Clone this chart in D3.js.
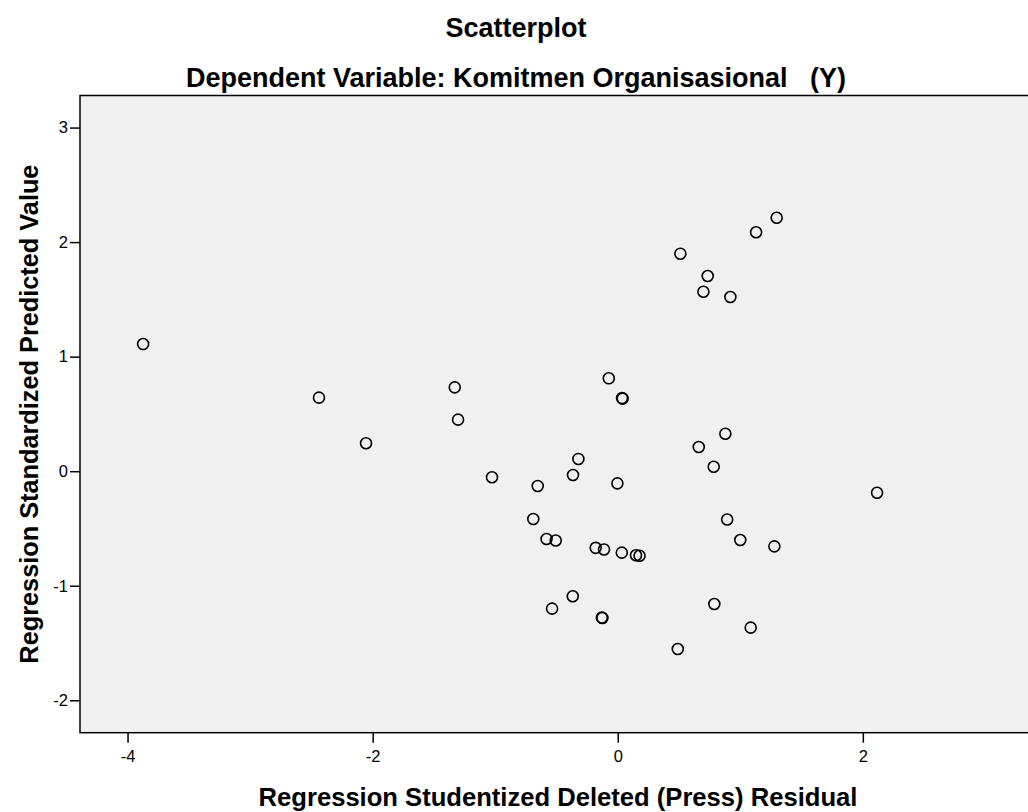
<!DOCTYPE html>
<html>
<head>
<meta charset="utf-8">
<script src="https://cdn.jsdelivr.net/npm/d3@7"></script>
<style>
  html, body { margin: 0; padding: 0; background: #fff; overflow: hidden; }
  svg { display: block; }
</style>
</head>
<body>
<svg id="chart"></svg>
<script>
// residuals (x) and standardized predicted values (y)
const residuals = [
  -3.873, -2.438, -2.054, -1.330, -1.303, -1.026, -0.653, -0.321, -0.365, -0.003,
  -0.689, -0.581, -0.506, -0.180, -0.112, 0.033, 0.149, 0.178, -0.073, 0.035,
  0.040, 0.661, 0.878, 0.783, 0.893, 1.000, 1.278, 2.116, -0.367, -0.536,
  -0.130, -0.125, 0.788, 1.085, 0.490, 1.297, 1.129, 0.511, 0.734, 0.699,
  0.919
];
const predicted = [
  1.110, 0.642, 0.244, 0.732, 0.450, -0.053, -0.129, 0.107, -0.033, -0.106,
  -0.417, -0.592, -0.605, -0.669, -0.684, -0.711, -0.734, -0.738, 0.811, 0.638,
  0.634, 0.211, 0.327, 0.039, -0.422, -0.601, -0.656, -0.188, -1.092, -1.200,
  -1.278, -1.281, -1.159, -1.366, -1.552, 2.213, 2.086, 1.899, 1.704, 1.567,
  1.521
];
const xTicks = [-4, -2, 0, 2];
const yTicks = [-2, -1, 0, 1, 2, 3];
const xDomain = [-4.388, 3.413];
const yDomain = [-2.283, 3.280];

const title = "Scatterplot";
const subtitle = "Dependent Variable: Komitmen Organisasional   (Y)";
const xLabel = "Regression Studentized Deleted (Press) Residual";
const yLabel = "Regression Standardized Predicted Value";

const points = residuals.map((r, i) => ({ x: r, y: predicted[i] }));

const width = 1028;
const height = 812;
const margin = { top: 95.5, left: 80 };
const plotW = 956;
const plotH = 637.2;
const font = "'Liberation Sans', Arial, sans-serif";

const svg = d3.select("#chart")
  .attr("width", width)
  .attr("height", height)
  .style("font-family", font);

const xScale = d3.scaleLinear().domain(xDomain).range([margin.left, margin.left + plotW]);
const yScale = d3.scaleLinear().domain(yDomain).range([margin.top + plotH, margin.top]);

// plot background + frame
svg.append("rect")
  .attr("x", margin.left)
  .attr("y", margin.top)
  .attr("width", plotW)
  .attr("height", plotH)
  .attr("fill", "#f0f0f0")
  .attr("stroke", "#000")
  .attr("stroke-width", 1.5);

// axes
const xAxis = d3.axisBottom(xScale)
  .tickValues(xTicks)
  .tickSize(10)
  .tickPadding(8)
  .tickFormat(d => String(d));

const yAxis = d3.axisLeft(yScale)
  .tickValues(yTicks)
  .tickSize(10)
  .tickPadding(2)
  .tickFormat(d => String(d));

const gX = svg.append("g")
  .attr("transform", `translate(0,${margin.top + plotH})`)
  .call(xAxis);
const gY = svg.append("g")
  .attr("transform", `translate(${margin.left},0)`)
  .call(yAxis);

[gX, gY].forEach(g => {
  g.attr("font-size", 16.5).attr("font-family", font);
  g.select(".domain").remove();
  g.selectAll(".tick line").attr("stroke", "#000").attr("stroke-width", 1.5);
  g.selectAll(".tick text").attr("fill", "#000");
});

// points
svg.append("g")
  .selectAll("circle")
  .data(points)
  .join("circle")
  .attr("cx", d => xScale(d.x))
  .attr("cy", d => yScale(d.y))
  .attr("r", 5.5)
  .attr("fill", "none")
  .attr("stroke", "#000")
  .attr("stroke-width", 1.6);

// titles
svg.append("text")
  .attr("x", 516)
  .attr("y", 37)
  .attr("text-anchor", "middle")
  .style("font-size", "27px")
  .style("font-weight", "bold")
  .text(title);

svg.append("text")
  .attr("x", 516)
  .attr("y", 87)
  .attr("text-anchor", "middle")
  .style("font-size", "27px")
  .style("font-weight", "bold")
  .style("white-space", "pre")
  .text(subtitle);

svg.append("text")
  .attr("x", margin.left + plotW / 2)
  .attr("y", 806)
  .attr("text-anchor", "middle")
  .style("font-size", "25.6px")
  .style("font-weight", "bold")
  .text(xLabel);

svg.append("text")
  .attr("transform", `translate(38,${margin.top + plotH / 2}) rotate(-90)`)
  .attr("text-anchor", "middle")
  .style("font-size", "25.3px")
  .style("font-weight", "bold")
  .text(yLabel);
</script>
</body>
</html>
